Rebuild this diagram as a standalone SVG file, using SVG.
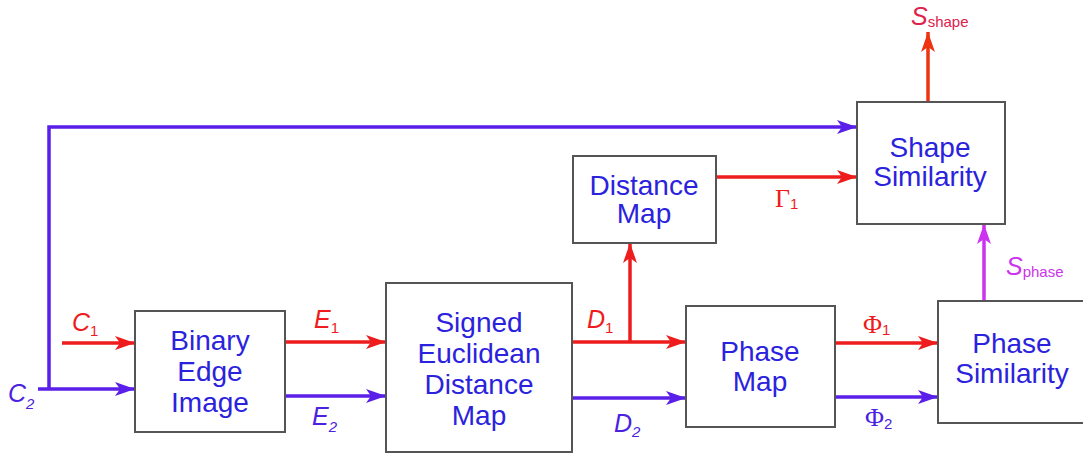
<svg xmlns="http://www.w3.org/2000/svg" width="1083" height="457" viewBox="0 0 1083 457">
  <style>
    .box { fill: #ffffff; stroke: #555555; stroke-width: 2; }
    .nt { font-family: "Liberation Sans", Arial, sans-serif; font-size: 28px; fill: #2b22dd; text-anchor: middle; }
    .lbl { font-family: "Liberation Sans", Arial, sans-serif; font-style: italic; font-size: 25px; }
    .gk { font-family: "Liberation Serif", "Times New Roman", serif; font-size: 26px; }
    .sub { font-family: "Liberation Sans", Arial, sans-serif; font-size: 15px; font-style: normal; }
    .red { stroke: #ee1c1c; }
    .pur { stroke: #5a1fe8; }
    .mag { stroke: #cc33ee; }
    .org { stroke: #ee3311; }
    .ln { fill: none; stroke-width: 3.5; }
  </style>
  <defs>
    <marker id="ah-red" markerUnits="userSpaceOnUse" markerWidth="22" markerHeight="16" refX="20" refY="7" orient="auto">
      <path d="M0,0 L20,7 L0,14 L5,7 Z" fill="#ee1c1c"/>
    </marker>
    <marker id="ah-pur" markerUnits="userSpaceOnUse" markerWidth="22" markerHeight="16" refX="20" refY="7" orient="auto">
      <path d="M0,0 L20,7 L0,14 L5,7 Z" fill="#5a1fe8"/>
    </marker>
    <marker id="ah-mag" markerUnits="userSpaceOnUse" markerWidth="22" markerHeight="16" refX="20" refY="7" orient="auto">
      <path d="M0,0 L20,7 L0,14 L5,7 Z" fill="#cc33ee"/>
    </marker>
    <marker id="ah-org" markerUnits="userSpaceOnUse" markerWidth="22" markerHeight="16" refX="20" refY="7" orient="auto">
      <path d="M0,0 L20,7 L0,14 L5,7 Z" fill="#ee3311"/>
    </marker>
  </defs>

  <!-- connectors -->
  <g id="connectors">
    <line class="ln red" x1="62" y1="343" x2="135" y2="343" marker-end="url(#ah-red)"/>
    <line class="ln pur" x1="38" y1="389" x2="135" y2="389" marker-end="url(#ah-pur)"/>
    <polyline class="ln pur" points="49,389 49,127 857,127" marker-end="url(#ah-pur)"/>
    <line class="ln red" x1="285" y1="342" x2="386" y2="342" marker-end="url(#ah-red)"/>
    <line class="ln pur" x1="285" y1="396" x2="386" y2="396" marker-end="url(#ah-pur)"/>
    <line class="ln red" x1="572" y1="342" x2="686" y2="342" marker-end="url(#ah-red)"/>
    <line class="ln red" x1="630" y1="342" x2="630" y2="243" marker-end="url(#ah-red)"/>
    <line class="ln pur" x1="572" y1="398" x2="686" y2="398" marker-end="url(#ah-pur)"/>
    <line class="ln red" x1="835" y1="343" x2="938" y2="343" marker-end="url(#ah-red)"/>
    <line class="ln pur" x1="835" y1="397" x2="938" y2="397" marker-end="url(#ah-pur)"/>
    <line class="ln red" x1="716" y1="177" x2="857" y2="177" marker-end="url(#ah-red)"/>
    <line class="ln mag" x1="984" y1="301" x2="984" y2="224" marker-end="url(#ah-mag)"/>
    <line class="ln org" x1="928" y1="102" x2="928" y2="32" marker-end="url(#ah-org)"/>
  </g>

  <!-- connector labels -->
  <g id="labels">
    <text class="lbl" x="72" y="331" fill="#ee1c1c">C<tspan class="sub" dy="5">1</tspan></text>
    <text class="lbl" x="8" y="402" fill="#4a22e0">C<tspan class="sub" style="font-style:italic" dy="7">2</tspan></text>
    <text class="lbl" x="314" y="328" fill="#ee1c1c">E<tspan class="sub" dy="5">1</tspan></text>
    <text class="lbl" x="312" y="425" fill="#4a22e0">E<tspan class="sub" style="font-style:italic" dy="7">2</tspan></text>
    <text class="lbl" x="587" y="328" fill="#ee1c1c">D<tspan class="sub" dy="5">1</tspan></text>
    <text class="lbl" x="614" y="432" fill="#4a22e0">D<tspan class="sub" style="font-style:italic" dy="5">2</tspan></text>
    <text class="gk" x="863" y="333" fill="#ee1c1c">Φ<tspan class="sub" font-size="17" dy="2">1</tspan></text>
    <text class="gk" x="865" y="426" fill="#4a22e0">Φ<tspan class="sub" font-size="17" dy="3">2</tspan></text>
    <text class="gk" x="775" y="207" fill="#ee1c1c">Γ<tspan class="sub" font-size="17" dy="2">1</tspan></text>
    <text class="lbl" x="911" y="25" font-size="28" fill="#e0204a">S<tspan class="sub" font-size="19" dy="2">shape</tspan></text>
    <text class="lbl" x="1006" y="275" font-size="28" fill="#cc33ee">S<tspan class="sub" font-size="19" dy="2">phase</tspan></text>
  </g>

  <g id="binary-edge-image">
    <rect class="box" x="135" y="311" width="150" height="121"/>
    <text class="nt" x="210" y="350">Binary</text>
    <text class="nt" x="210" y="381">Edge</text>
    <text class="nt" x="210" y="412">Image</text>
  </g>

  <g id="signed-euclidean-distance-map">
    <rect class="box" x="386" y="283" width="186" height="169"/>
    <text class="nt" x="479" y="332">Signed</text>
    <text class="nt" x="479" y="363">Euclidean</text>
    <text class="nt" x="479" y="394">Distance</text>
    <text class="nt" x="479" y="425">Map</text>
  </g>

  <g id="distance-map">
    <rect class="box" x="573" y="156" width="143" height="87"/>
    <text class="nt" x="644" y="195">Distance</text>
    <text class="nt" x="644" y="223">Map</text>
  </g>

  <g id="phase-map">
    <rect class="box" x="686" y="306" width="149" height="121"/>
    <text class="nt" x="760" y="361" font-size="30">Phase</text>
    <text class="nt" x="760" y="391" font-size="30">Map</text>
  </g>

  <g id="phase-similarity">
    <rect class="box" x="938" y="301" width="150" height="122"/>
    <text class="nt" x="1012" y="353">Phase</text>
    <text class="nt" x="1012" y="383">Similarity</text>
  </g>

  <g id="shape-similarity">
    <rect class="box" x="857" y="102" width="148" height="122"/>
    <text class="nt" x="930" y="157">Shape</text>
    <text class="nt" x="930" y="186">Similarity</text>
  </g>
</svg>
